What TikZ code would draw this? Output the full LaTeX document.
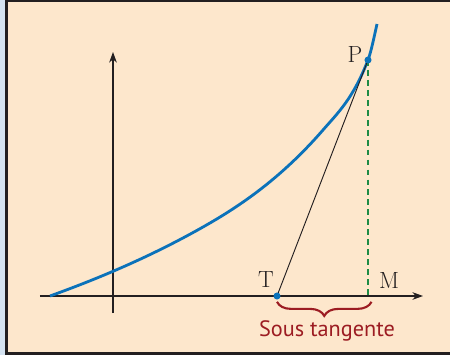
\documentclass[tikz,border=0pt]{standalone}
\usepackage{fontspec}
\newfontfamily\sousfont{PT Sans}
\usepackage{tikz}
\usetikzlibrary{arrows.meta,positioning,decorations.pathreplacing,calc}
\definecolor{Paper}{HTML}{FDE7CC}
\definecolor{Frame}{HTML}{231F20}
\definecolor{Strip}{HTML}{D5E3F1}
\definecolor{Curve}{HTML}{0B72BA}
\definecolor{Proj}{HTML}{1E8B45}
\definecolor{Brace}{HTML}{9C1C22}
\tikzset{
  axis/.style={-{Stealth[length=3.2mm,width=2.3mm]}, line width=0.9pt, draw=Frame},
  courbe/.style={line width=2.4pt, draw=Curve},
  tangente/.style={line width=0.8pt, draw=Frame},
  proj/.style={line width=2pt, draw=Proj, dash pattern=on 5pt off 3.5pt},
  pt/.style={fill=Curve},
  lbl/.style={font=\fontsize{20}{24}\selectfont, text=Frame, inner sep=0pt},
  brace/.style={decorate, decoration={brace, amplitude=12pt}, line width=1.8pt, draw=Brace},
  tag/.style={font=\sousfont\fontsize{19}{22}\selectfont, text=Brace, inner sep=0pt},
}
\begin{document}
\begin{tikzpicture}[x=0.03cm, y=0.03cm]
  \useasboundingbox (-113,-59) rectangle (337,296);
  % cadre
  \fill[Strip] (-113,-59) rectangle (-108,296);
  \fill[Frame] (-108,-59) rectangle (337,296);
  \fill[Paper] (-105,-56) rectangle (337,294);
  % points
  \coordinate (O) at (0,0);
  \coordinate (T) at (164,0);
  \coordinate (P) at (255,236);
  \coordinate (M) at (255,0);
  \coordinate (xa) at (-73,0);
  \coordinate (xb) at (310,0);
  \coordinate (ya) at (0,-17);
  \coordinate (yb) at (0,244);
  % axes
  \draw[axis] (xa) -- (xb);
  \draw[axis] (ya) -- (yb);
  % courbe
  \draw[courbe] (-63,0) .. controls (-10,19.1) and (44,42.3) .. (97,73)
    .. controls (134.7,94.9) and (172.3,122.6) .. (210,166)
    .. controls (225,183.3) and (240,197.2) .. (P)
    .. controls (258,243.8) and (261,258.5) .. (264,272);
  \draw[proj] (P) -- (M);
  \draw[tangente] (T) -- (P);
  \fill[pt] (T) circle (3pt);
  \fill[pt] (P) circle (3pt);
  \node[lbl] (lT) at (153,16) {T};
  \node[lbl] (lP) at (242,242) {P};
  \node[lbl] (lM) at (276,16) {M};
  % sous tangente
  \draw[brace] ([xshift=3pt,yshift=-5pt]M) -- ([yshift=-5pt]T);
  \node[tag] (sous) at (214,-35) {Sous tangente};
\end{tikzpicture}
\end{document}
